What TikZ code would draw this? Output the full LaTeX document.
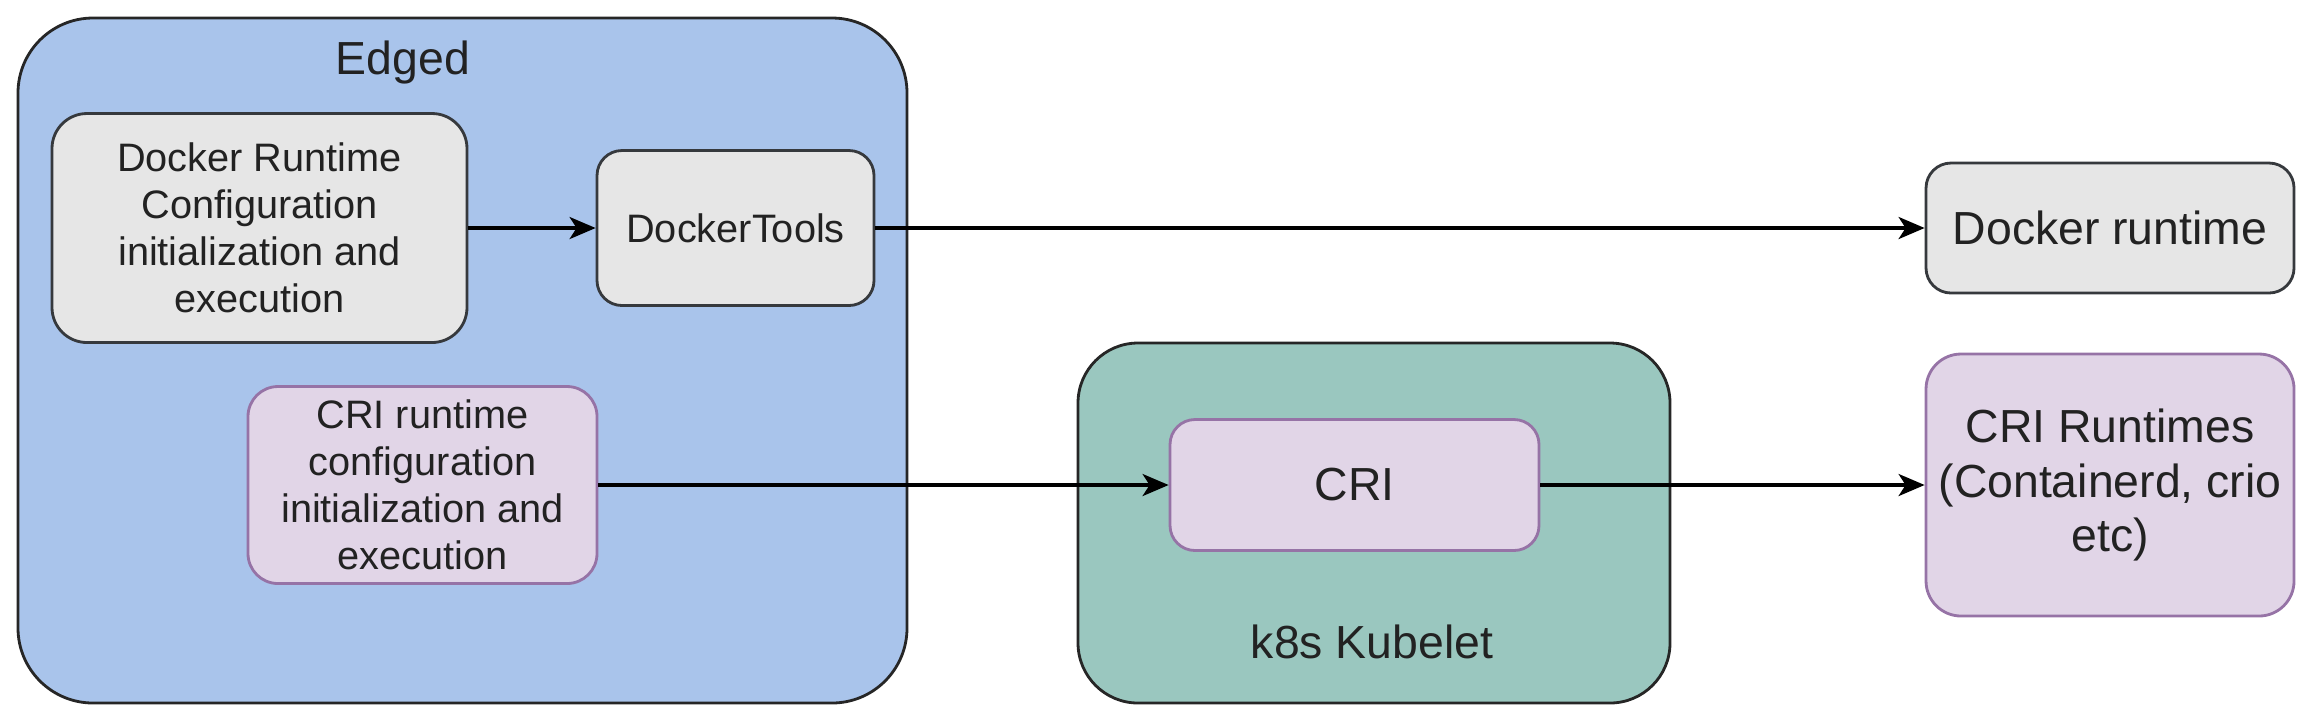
\documentclass[tikz,border=0pt]{standalone}
\usepackage{fontspec}
\setmainfont{Liberation Sans}
\usetikzlibrary{arrows.meta}
\definecolor{edgedblue}{HTML}{A9C4EB}
\definecolor{boxgrey}{HTML}{E6E6E6}
\definecolor{greyline}{HTML}{36393D}
\definecolor{purplefill}{HTML}{E1D5E7}
\definecolor{purpleline}{HTML}{9673A6}
\definecolor{tealfill}{HTML}{9AC7BF}
\definecolor{txt}{HTML}{222222}
\tikzset{
  base/.style={draw, line width=0.8pt, align=center, inner sep=2pt, text=txt},
  container/.style={base, draw=black!85},
  greybox/.style={base, fill=boxgrey, draw=greyline},
  purplebox/.style={base, fill=purplefill, draw=purpleline},
  small/.style={font=\fontsize{11.3}{13.4}\selectfont},
  large/.style={font=\fontsize{13.2}{15.6}\selectfont},
  conn/.style={line width=1pt, -{Stealth[length=0.26cm,width=0.22cm,inset=0.07cm]}},
  lbl/.style={text=txt, inner sep=0pt, font=\fontsize{13.2}{15.6}\selectfont}
}
\begin{document}
\begin{tikzpicture}
\useasboundingbox (0,0) rectangle (23.16,-7.26);
% containers
\node[container, fill=edgedblue, rounded corners=0.75cm, minimum width=8.89cm, minimum height=6.85cm] (edged) at (4.625,-3.605) {};
\node[lbl] (edgedlbl) at (4.03,-0.62) {Edged};
\node[container, fill=tealfill, rounded corners=0.6cm, minimum width=5.92cm, minimum height=3.60cm] (kub) at (13.74,-5.23) {};
\node[lbl] (kublbl) at (13.72,-6.42) {k8s Kubelet};
% inner boxes
\node[greybox, small, rounded corners=0.35cm, minimum width=4.15cm, minimum height=2.29cm] (drc) at (2.595,-2.28) {Docker Runtime\\Configuration\\initialization and\\execution};
\node[greybox, small, rounded corners=0.25cm, minimum width=2.77cm, minimum height=1.55cm] (dt) at (7.355,-2.28) {DockerTools};
\node[purplebox, small, rounded corners=0.3cm, minimum width=3.49cm, minimum height=1.97cm] (cric) at (4.225,-4.85) {CRI runtime\\configuration\\initialization and\\execution};
\node[purplebox, large, rounded corners=0.25cm, minimum width=3.69cm, minimum height=1.31cm] (cri) at (13.545,-4.85) {CRI};
\node[greybox, large, rounded corners=0.25cm, minimum width=3.68cm, minimum height=1.30cm] (dr) at (21.1,-2.28) {Docker runtime};
\node[purplebox, large, rounded corners=0.35cm, minimum width=3.68cm, minimum height=2.62cm] (crir) at (21.1,-4.85) {CRI Runtimes\\(Containerd, crio\\etc)};
% connectors
\draw[conn] (drc) -- (dt);
\draw[conn] (dt) -- (dr);
\draw[conn] (cric) -- (cri);
\draw[conn] (cri) -- (crir);
\end{tikzpicture}
\end{document}
